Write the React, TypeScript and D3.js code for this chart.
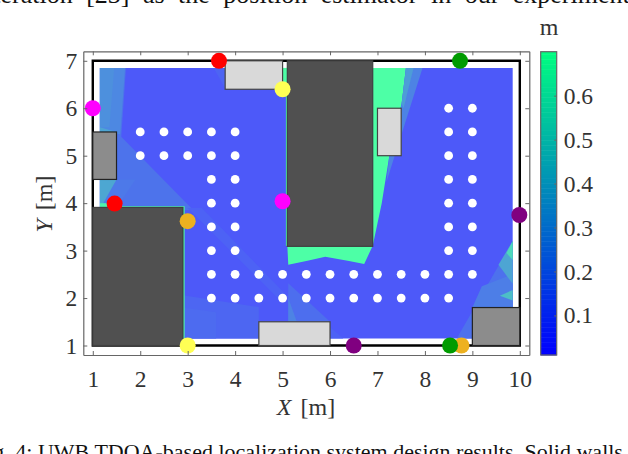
import React, { useEffect, useRef } from "react";
import * as d3 from "d3";

type Pt = [number, number];

// colour limits of the error map, metres
const cLimits: Pt = [0.01, 0.7];
const cbarTicks = [0.1, 0.2, 0.3, 0.4, 0.5, 0.6];
const xTicks = [1, 2, 3, 4, 5, 6, 7, 8, 9, 10];
const yTicks = [1, 2, 3, 4, 5, 6, 7];

// error map, painted back to front: [value, polygon]
const heatRegions: [number, Pt[]][] = [
  [0.06, [[1.15, 1.15], [9.85, 1.15], [9.85, 6.85], [1.15, 6.85]]],
  // left side
  [0.16, [[1.15, 6.85], [1.7, 6.85], [1.6, 5.4], [3.12, 3.85], [1.15, 3.9]]],
  [0.24, [[1.15, 6.85], [1.68, 6.85], [1.58, 5.45], [1.15, 5.5]]],
  [0.27, [[1.15, 6.85], [1.45, 6.85], [1.35, 5.6], [1.15, 5.6]]],
  [0.35, [[1.15, 5.6], [1.5, 5.5], [1.15, 5.5]]],
  [0.18, [[1.15, 4.5], [1.9, 4.5], [1.5, 3.9], [1.15, 3.9]]],
  [0.36, [[1.15, 4.5], [1.5, 4.5], [1.22, 4.0], [1.15, 4.0]]],
  [0.65, [[1.15, 4.0], [1.35, 4.0], [1.35, 3.9], [1.15, 3.9]]],
  // faint streaks in the middle
  [0.09, [[3.0, 3.9], [3.3, 3.9], [5.12, 2.02], [4.95, 1.95]]],
  [0.1, [[3.55, 6.85], [3.8, 6.85], [3.8, 6.4]]],
  [0.09, [[5.37, 1.92], [6.28, 1.15], [6.0, 1.15], [6.0, 1.5]]],
  // below the left wall
  [0.11, [[2.9, 2.06], [4.5, 1.81], [4.5, 1.15], [2.9, 1.15]]],
  [0.13, [[2.9, 1.8], [3.6, 1.7], [3.6, 1.15], [2.9, 1.15]]],
  // wedge above the bottom box
  [0.14, [[5.12, 2.31], [6.0, 1.5], [5.12, 1.5]]],
  [0.22, [[5.12, 2.0], [5.3, 1.5], [5.12, 1.5]]],
  // lower right fan
  [0.15, [[8.67, 1.15], [9.85, 3.2], [9.85, 1.8], [9.0, 1.8], [9.0, 1.15]]],
  [0.2, [[9.2, 2.25], [9.85, 2.5], [9.85, 1.8], [9.0, 1.8]]],
  [0.35, [[9.85, 3.2], [9.55, 2.7], [9.85, 2.3]]],
  [0.55, [[9.85, 3.2], [9.72, 2.95], [9.85, 2.8]]],
  [0.45, [[9.58, 2.05], [9.85, 2.17], [9.85, 1.95]]],
  // no line of sight behind the centre wall
  [0.7, [[6.9, 6.85], [7.6, 6.85], [7.51, 6.1], [7.25, 5.0], [7.09, 4.0], [6.9, 3.1]]],
  [0.22, [[7.6, 6.85], [7.95, 6.85], [7.19, 4.45], [7.25, 5.0], [7.51, 6.1]]],
  [0.32, [[7.6, 6.85], [7.76, 6.85], [7.55, 6.0], [7.51, 6.1]]],
  [0.7, [[5.1, 3.1], [6.9, 3.1], [6.72, 2.72], [6.4, 2.78], [5.9, 2.87], [5.5, 2.78], [5.12, 2.7]]],
  [0.7, [[5.07, 3.1], [5.1, 3.1], [5.1, 6.85], [5.07, 6.85]]],
  [0.7, [[5.0, 6.4], [5.1, 6.4], [5.1, 6.85], [5.0, 6.85]]],
  // rim along the lower left wall
  [0.7, [[2.9, 1.15], [2.935, 1.15], [2.935, 3.935], [1.35, 3.935], [1.35, 3.9], [2.9, 3.9]]],
];

// x0, x1, y0, y1 in metres
const solidWalls = [[1, 2.9, 1, 3.91], [5.1, 6.9, 3.09, 7]];
const grayBoxes = [[1, 1.5, 4.5, 5.5], [9, 10, 1, 1.8]];
const lightBoxes = [[3.79, 5, 6.4, 7], [7, 7.5, 5, 6], [4.5, 6, 1, 1.5]];

const roomOutline: Pt[] = [[1, 1], [10, 1], [10, 7], [1, 7]];

// flight test waypoints
const waypoints: Pt[] = [
  [2, 5.5], [2.5, 5.5], [3, 5.5], [3.5, 5.5], [4, 5.5],
  [2, 5], [2.5, 5], [3, 5], [3.5, 5], [4, 5],
  [3.5, 4.5], [4, 4.5], [3.5, 4], [4, 4], [3.5, 3.5], [4, 3.5], [3.5, 3], [4, 3],
  [3.5, 2.5], [4, 2.5], [4.5, 2.5], [5, 2.5], [5.5, 2.5], [6, 2.5], [6.5, 2.5], [7, 2.5], [7.5, 2.5], [8, 2.5], [8.5, 2.5], [9, 2.5],
  [3.5, 2], [4, 2], [4.5, 2], [5, 2], [5.5, 2], [6, 2], [6.5, 2], [7, 2], [7.5, 2], [8, 2], [8.5, 2],
  [8.5, 6], [9, 6], [8.5, 5.5], [9, 5.5], [8.5, 5], [9, 5], [8.5, 4.5], [9, 4.5], [8.5, 4], [9, 4],
  [8.5, 3.5], [9, 3.5], [8.5, 3], [9, 3],
];

// anchor pairs, same colour = same pair
const anchors: [string, Pt][] = [
  ["#ff0000", [3.66, 7]],
  ["#ff0000", [1.46, 3.99]],
  ["#ff00ff", [1, 6]],
  ["#ff00ff", [5, 4.04]],
  ["#ffff55", [5, 6.4]],
  ["#ffff55", [3, 1]],
  ["#edb120", [3, 3.62]],
  ["#edb120", [8.77, 1]],
  ["#009b00", [8.74, 7]],
  ["#009b00", [8.53, 1]],
  ["#800080", [9.99, 3.75]],
  ["#800080", [6.5, 1]],
];

const FONT = "'Liberation Serif', serif";
const TEXT = "#333333";
const AXIS = "#666666";

// MATLAB winter
const winter = d3.scaleLinear<string>().domain([0, 1]).range(["#0000ff", "#00ff80"]);

export default function App() {
  const svgRef = useRef<SVGSVGElement>(null);

  useEffect(() => {
    const svg = d3.select(svgRef.current);
    svg.selectAll("*").remove();

    const x = d3.scaleLinear().domain([0.8, 10.2]).range([83.3, 529.3]);
    const y = d3.scaleLinear().domain([0.8, 7.2]).range([355, 51.3]);
    const tc = d3.scaleLinear().domain(cLimits).range([0, 1]);
    const cy = d3.scaleLinear().domain(cLimits).range([355, 51.7]);

    // the map is drawn with 0.7 alpha over white
    const heatColor = (v: number) => d3.interpolateRgb("#ffffff", winter(tc(v)))(0.7);
    const poly = d3.line<Pt>().x(d => x(d[0])).y(d => y(d[1]));

    // caption fragments cut off by the crop
    svg.append("text").attr("x", -14).attr("y", 3)
      .attr("font-family", FONT).attr("font-size", 26).attr("fill", "#111")
      .attr("word-spacing", 7)
      .text("iteration [23] as the position estimator in our experiment");
    svg.append("text").attr("x", -25).attr("y", 459)
      .attr("font-family", FONT).attr("font-size", 22).attr("fill", "#111")
      .text("Fig. 4: UWB TDOA-based localization system design results. Solid walls");

    // heat map
    svg.append("g").selectAll("path").data(heatRegions).join("path")
      .attr("d", d => poly(d[1]) + "Z")
      .attr("fill", d => heatColor(d[0]));

    // room outline
    svg.append("path").attr("d", poly(roomOutline) + "Z")
      .attr("fill", "none").attr("stroke", "#000").attr("stroke-width", 2.4);

    const boxes = (rows: number[][], fill: string, stroke: string) => {
      svg.append("g").selectAll("rect").data(rows).join("rect")
        .attr("x", d => x(d[0]))
        .attr("y", d => y(d[3]))
        .attr("width", d => x(d[1]) - x(d[0]))
        .attr("height", d => y(d[2]) - y(d[3]))
        .attr("fill", fill)
        .attr("stroke", stroke)
        .attr("stroke-width", 1.2);
    };
    boxes(solidWalls, "#505050", "#404040");
    boxes(grayBoxes, "#8c8c8c", "#222222");
    boxes(lightBoxes, "#d9d9d9", "#444444");

    // waypoints and anchors
    svg.append("g").selectAll("circle").data(waypoints).join("circle")
      .attr("cx", d => x(d[0])).attr("cy", d => y(d[1])).attr("r", 4.4).attr("fill", "#fff");
    svg.append("g").selectAll("circle").data(anchors).join("circle")
      .attr("cx", d => x(d[1][0])).attr("cy", d => y(d[1][1])).attr("r", 8).attr("fill", d => d[0]);

    // axes, ticks pointing in
    const styleAxis = (g: any, labels: boolean) => {
      g.select(".domain").attr("stroke", AXIS).attr("stroke-width", 1.2);
      g.selectAll(".tick line").attr("stroke", AXIS);
      g.selectAll("text")
        .attr("font-family", FONT).attr("font-size", 23.5).attr("fill", TEXT)
        .style("display", labels ? null : "none");
    };
    const xFmt = (d: any) => String(d);
    svg.append("g").attr("transform", "translate(0,355)")
      .call(d3.axisBottom(x).tickValues(xTicks).tickSize(-4).tickSizeOuter(0).tickPadding(15).tickFormat(xFmt))
      .call((g: any) => styleAxis(g, true));
    svg.append("g").attr("transform", "translate(0,51.3)")
      .call(d3.axisTop(x).tickValues(xTicks).tickSize(-4).tickSizeOuter(0))
      .call((g: any) => styleAxis(g, false));
    svg.append("g").attr("transform", "translate(83.3,0)")
      .call(d3.axisLeft(y).tickValues(yTicks).tickSize(-4).tickSizeOuter(0).tickPadding(6).tickFormat(xFmt))
      .call((g: any) => styleAxis(g, true));
    svg.append("g").attr("transform", "translate(529.3,0)")
      .call(d3.axisRight(y).tickValues(yTicks).tickSize(-4).tickSizeOuter(0))
      .call((g: any) => styleAxis(g, false));

    // axis titles
    const xLabel = svg.append("text").attr("x", 306).attr("y", 415).attr("text-anchor", "middle")
      .attr("font-family", FONT).attr("font-size", 24).attr("fill", TEXT);
    xLabel.append("tspan").attr("font-style", "italic").text("X");
    xLabel.append("tspan").attr("dx", 3).text(" [m]");
    const yLabel = svg.append("text").attr("transform", "translate(52,204) rotate(-90)").attr("text-anchor", "middle")
      .attr("font-family", FONT).attr("font-size", 24).attr("fill", TEXT);
    yLabel.append("tspan").attr("font-style", "italic").text("Y");
    yLabel.append("tspan").attr("dx", 3).text(" [m]");

    // colour bar
    const steps = d3.range(0, 120).map(i => cLimits[0] + ((cLimits[1] - cLimits[0]) * i) / 120);
    const stepH = (cLimits[1] - cLimits[0]) / 120;
    svg.append("g").selectAll("rect").data(steps).join("rect")
      .attr("x", 540.7).attr("width", 16)
      .attr("y", d => cy(d + stepH))
      .attr("height", d => cy(d) - cy(d + stepH) + 0.5)
      .attr("fill", d => winter(tc(d)));
    svg.append("rect").attr("x", 540.7).attr("y", 51.7).attr("width", 16).attr("height", 303.3)
      .attr("fill", "none").attr("stroke", AXIS).attr("stroke-width", 1.2);
    svg.append("g").attr("transform", "translate(556.7,0)")
      .call(d3.axisRight(cy).tickValues(cbarTicks).tickSize(-2.5).tickSizeOuter(0).tickPadding(7).tickFormat(d3.format(".1f") as any))
      .call((g: any) => {
        styleAxis(g, true);
        g.select(".domain").remove();
      });
    svg.append("text").attr("x", 549).attr("y", 35).attr("text-anchor", "middle")
      .attr("font-family", FONT).attr("font-size", 24).attr("fill", TEXT).text("m");
  }, []);

  return (
    <svg
      ref={svgRef}
      width={628}
      height={454}
      style={{ position: "absolute", left: 0, top: 0, background: "#fff" }}
    />
  );
}
